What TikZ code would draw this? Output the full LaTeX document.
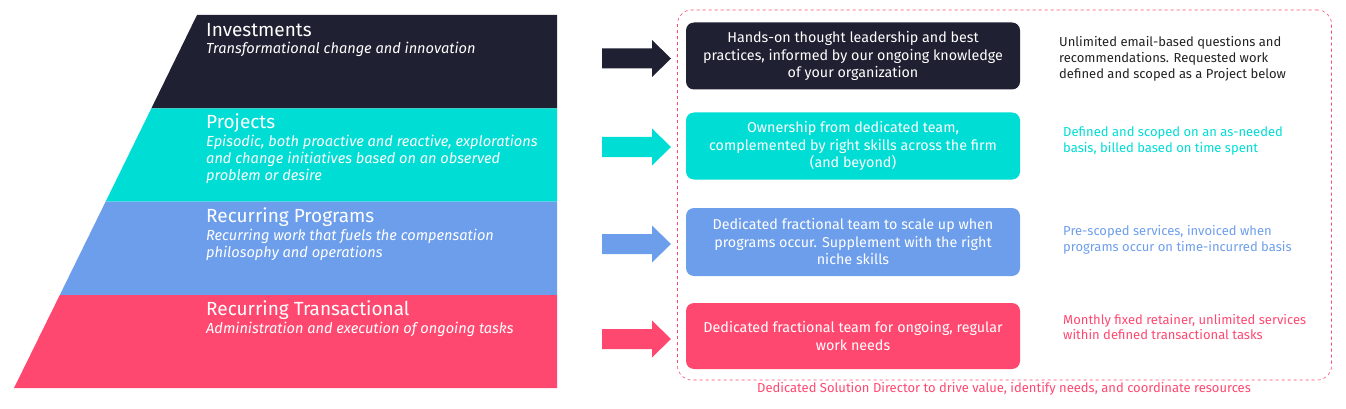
\documentclass[tikz,border=0pt]{standalone}
\usepackage{fontspec}
\setmainfont{Fira Sans}
\definecolor{cdark}{HTML}{1F2031}
\definecolor{ccyan}{HTML}{00DDD5}
\definecolor{cblue}{HTML}{6D9EEB}
\definecolor{cpink}{HTML}{FF4870}
\definecolor{ctext}{HTML}{222222}
\begin{document}
\begin{tikzpicture}[x=1pt,y=-1pt,
  ttl/.style={anchor=west,inner sep=0pt,text=white,font=\fontsize{19}{20}\selectfont},
  sub/.style={anchor=north west,inner sep=0pt,text=white,align=left,font=\fontsize{14.6}{17.2}\selectfont\itshape},
  box/.style={rounded corners=8pt,inner sep=0pt,minimum width=334pt,align=center,text=white,font=\fontsize{14.3}{17.5}\selectfont},
  note/.style={anchor=west,inner sep=0pt,align=left,font=\fontsize{13}{15.8}\selectfont}]
\useasboundingbox (0,0) rectangle (1346,409);
% pyramid bands
\fill[cdark] (197,15) -- (557,15) -- (557,108.5) -- (151.3,108.5) -- cycle;
\fill[ccyan] (151.3,108.5) -- (557,108.5) -- (557,201.5) -- (105.7,201.5) -- cycle;
\fill[cblue] (105.7,201.5) -- (557,201.5) -- (557,295) -- (59.8,295) -- cycle;
\fill[cpink] (59.8,295) -- (557,295) -- (557,388) -- (14,388) -- cycle;
% pyramid texts
\node[ttl] (t1) at (206,30) {Investments};
\node[sub] (s1) at (206,42) {Transformational change and innovation};
\node[ttl] (t2) at (206,123) {Projects};
\node[sub] (s2) at (206,135) {Episodic, both proactive and reactive, explorations\\and change initiatives based on an observed\\problem or desire};
\node[ttl] (t3) at (206,217) {Recurring Programs};
\node[sub] (s3) at (206,229) {Recurring work that fuels the compensation\\philosophy and operations};
\node[ttl] (t4) at (206,310) {Recurring Transactional};
\node[sub] (s4) at (206,322) {Administration and execution of ongoing tasks};
% block arrows
\foreach \c/\y in {cdark/58.5,ccyan/147,cblue/244,cpink/339}{
  \fill[\c] (602,\y-10) -- (652,\y-10) -- (652,\y-18.5) -- (671,\y) -- (652,\y+18.5) -- (652,\y+10) -- (602,\y+10) -- cycle;
}
% dashed frame
\node[draw=cpink,dashed,line width=0.6pt,rounded corners=14pt,minimum width=654pt,minimum height=370pt,inner sep=0pt] (frame) at (1004.5,195) {};
% boxes
\node[box,fill=cdark,minimum height=67pt] (b1) at (853,56) {Hands-on thought leadership and best\\practices, informed by our ongoing knowledge\\of your organization};
\node[box,fill=ccyan,minimum height=67pt] (b2) at (853,146) {Ownership from dedicated team,\\complemented by right skills across the firm\\(and beyond)};
\node[box,fill=cblue,minimum height=68pt] (b3) at (853,242) {Dedicated fractional team to scale up when\\programs occur. Supplement with the right\\niche skills};
\node[box,fill=cpink,minimum height=66pt] (b4) at (853,336) {Dedicated fractional team for ongoing, regular\\work needs};
% notes
\node[note,text=ctext] (n1) at (1059,59) {Unlimited email-based questions and\\recommendations. Requested work\\defined and scoped as a Project below};
\node[note,text=ccyan] (n2) at (1063,141) {Defined and scoped on an as-needed\\basis, billed based on time spent};
\node[note,text=cblue] (n3) at (1063,239.5) {Pre-scoped services, invoiced when\\programs occur on time-incurred basis};
\node[note,text=cpink] (n4) at (1063,327) {Monthly fixed retainer, unlimited services\\within defined transactional tasks};
\node[note,anchor=center,text=cpink] (foot) at (1004,389) {Dedicated Solution Director to drive value, identify needs, and coordinate resources};
\end{tikzpicture}
\end{document}
